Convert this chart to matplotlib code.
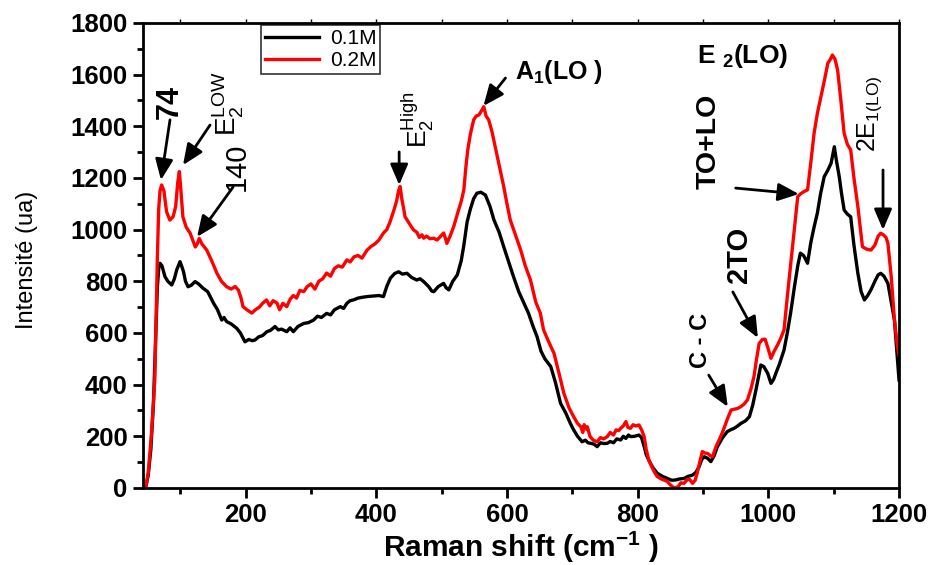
import matplotlib
matplotlib.use("Agg")
import matplotlib.pyplot as plt
from matplotlib.ticker import MultipleLocator

plt.rcParams['font.family'] = ['Liberation Sans', 'DejaVu Sans']
plt.rcParams['mathtext.fontset'] = 'custom'
plt.rcParams['mathtext.rm'] = 'Liberation Sans'
plt.rcParams['mathtext.bf'] = 'Liberation Sans:bold'

# Raman spectrum, 0.2M sample
shift_02 = [47, 51, 55, 58, 61, 63, 65, 67, 69, 71.5, 75, 79, 84, 89, 93, 96, 98.6, 101, 104, 109,
            115, 119, 123, 126, 129, 133, 140.5, 148, 156, 163, 171, 178, 184, 189, 193, 196, 202, 209.5,
            215, 221, 226, 232, 237, 242, 248, 252, 257, 263, 268, 273, 278, 283, 289, 294, 300, 306,
            312, 318, 324, 330, 336, 342, 348, 355, 360, 366, 372, 378, 386, 392, 398, 404, 411, 416,
            421, 427, 431, 434, 436.5, 439, 442, 444, 449, 454, 457, 462, 466, 470, 472.5, 477, 482,
            488, 493, 498, 503, 506, 508, 513, 518.5, 524, 530, 534, 537, 540, 544, 549, 553, 557,
            561, 564.5, 568, 572, 577, 582, 588, 595, 600, 605, 613, 621, 628, 636, 644, 651, 656,
            664, 672, 680, 687, 695, 702, 708, 713, 716, 718, 721, 723, 727, 732, 738, 743, 748,
            753.5, 758, 763, 767, 771, 774, 778, 782, 785, 789, 793, 797, 802, 806, 810, 813, 817,
            822, 826, 830, 836, 841, 845.5, 850, 856, 862, 866, 871, 875, 879, 884, 888, 891, 895,
            899, 903, 907, 911, 914.5, 920, 927, 932, 937, 943, 948, 953, 958, 963, 968, 973, 978,
            982, 986, 991, 995, 999, 1004, 1009, 1014, 1019, 1024, 1029, 1034, 1040, 1045, 1050,
            1055, 1060, 1065, 1070, 1075, 1080.5, 1086, 1091, 1095, 1098, 1102, 1106, 1111, 1116,
            1121, 1126, 1131, 1137, 1141, 1144, 1150, 1157, 1163, 1168, 1172, 1176, 1180, 1183,
            1188, 1193, 1197, 1200]
int_02 = [0, 60, 180, 290, 420, 650, 900, 1080, 1150, 1173, 1150, 1070, 1037, 1050, 1090, 1180, 1225, 1150, 1050, 1010,
          987, 960, 933, 945, 966, 945, 921, 880, 832, 800, 779, 770, 780, 766, 735, 702, 690, 677,
          690, 700, 715, 728, 705, 725, 716, 690, 715, 702, 730, 745, 735, 765, 760, 779, 790, 770,
          800, 810, 832, 820, 850, 860, 855, 883, 875, 895, 900, 890, 921, 935, 945, 960, 987, 1000,
          1030, 1076, 1110, 1150, 1167, 1120, 1080, 1050, 1030, 1010, 999, 990, 970, 980, 967, 975, 965,
          967, 960, 973, 987, 965, 947, 975, 1012, 1060, 1110, 1154, 1240, 1309, 1370, 1425, 1440, 1444,
          1460, 1476, 1440, 1425, 1380, 1321, 1250, 1167, 1100, 1038, 980, 921, 860, 805, 720, 677, 612,
          565, 521, 440, 367, 310, 276, 250, 237, 215, 245, 228, 237, 200, 185, 179, 195, 190,
          199, 215, 205, 225, 222, 231, 240, 257, 235, 231, 245, 240, 244, 225, 199, 150, 108,
          80, 60, 44, 35, 30, 25, 12, 0, 5, 20, 18, 30, 35, 18, 30, 57, 100,
          141, 135, 134, 125, 121, 160, 199, 230, 265, 302, 305, 308, 315, 325, 341, 380, 431,
          500, 560, 575, 576, 545, 502, 530, 553, 580, 612, 740, 860, 1000, 1128, 1140,
          1148, 1154, 1260, 1373, 1450, 1515, 1580, 1644, 1660, 1676, 1660, 1618, 1500, 1373,
          1330, 1309, 1200, 1089, 1000, 934, 925, 921, 940, 975, 986, 980, 970, 947,
          820, 650, 560, 515]

# Raman spectrum, 0.1M sample
shift_01 = [47, 51, 55, 59, 62, 65, 67, 69, 72, 76.6, 81, 87, 91, 94.5, 99.6, 102, 105, 108, 112, 117,
            122.6, 128, 135, 142, 151, 157, 163.5, 167, 171, 178, 186.5, 192, 199, 205, 210, 214.5,
            220, 226, 232.5, 238, 245, 250, 255, 263, 268, 273, 280, 289, 296, 304, 310, 316, 324,
            330, 336, 345, 350, 355, 360, 365, 372, 378, 386, 395, 404, 411, 416, 421.5, 428, 434,
            440, 447, 454, 462, 467, 472.5, 480, 485, 488, 495, 503, 507, 511, 517, 524, 530, 534,
            539, 544, 549, 554, 560, 567, 574, 580, 588, 595, 602, 610, 618, 626, 633, 640, 646,
            652, 658, 667, 674, 682, 690, 697, 702, 708, 715, 720, 724, 728, 733, 738, 743, 748,
            753.5, 758, 763, 768, 774, 778, 782, 786, 789, 795, 802, 806, 810, 813, 817, 823, 830,
            838, 845.5, 852, 858, 864, 871, 877, 884, 889, 894, 898, 902, 907, 912, 917, 922, 930,
            937, 942, 947.5, 953, 958, 965, 971, 976, 981, 985, 988.5, 993, 999, 1004, 1008,
            1011.5, 1017, 1024, 1029, 1034, 1040, 1045, 1049, 1054, 1060, 1065, 1070, 1075, 1080,
            1085.5, 1091, 1096, 1101, 1104, 1108.5, 1112, 1116, 1121, 1126, 1131, 1137, 1142, 1147,
            1152, 1157, 1163, 1168, 1172, 1177, 1183, 1188, 1193, 1197, 1200]
int_01 = [0, 50, 150, 330, 550, 780, 850, 870, 860, 818, 800, 786, 810, 844, 876, 860, 837, 800, 779, 785,
          799, 790, 773, 760, 715, 690, 650, 660, 644, 635, 618, 600, 566, 575, 570, 573,
          585, 590, 605, 610, 625, 612, 615, 605, 620, 605, 625, 637, 640, 650, 665, 660, 676,
          670, 690, 702, 695, 715, 725, 728, 735, 738, 741, 743, 745, 741, 780, 812, 830, 837,
          828, 831, 815, 805, 810, 799, 780, 762, 760, 780, 792, 775, 767, 800, 825, 880, 940,
          1030, 1080, 1120, 1141, 1145, 1134, 1090, 1038, 990, 934, 880, 818, 760, 715, 676, 625, 586,
          530, 500, 470, 410, 328, 290, 250, 225, 200, 179, 185, 175, 173, 170, 160, 175, 172,
          173, 180, 175, 190, 186, 200, 192, 205, 199, 200, 205, 195, 160, 130, 108, 80, 57,
          45, 37, 30, 31, 35, 37, 45, 50, 60, 82, 110, 121, 115, 102, 125, 160, 195,
          218, 225, 231, 240, 250, 260, 276, 320, 379, 430, 476, 470, 444, 405, 420,
          444, 480, 534, 600, 676, 780, 860, 909, 900, 870, 950, 1010, 1064, 1140,
          1205, 1230, 1257, 1321, 1270, 1205, 1140, 1076, 1060, 1050, 940, 831, 760, 728,
          745, 767, 800, 825, 831, 820, 792, 720, 650, 520, 418]

x_ticks = [200, 400, 600, 800, 1000, 1200]
y_ticks = [0, 200, 400, 600, 800, 1000, 1200, 1400, 1600, 1800]

fig = plt.figure(figsize=(9.36, 5.65), dpi=100)
ax = fig.add_axes([0.1528, 0.1363, 0.8077, 0.823])

ax.plot(shift_01, int_01, color='black', lw=2.4, label='0.1M')
ax.plot(shift_02, int_02, color='#ff0000', lw=2.4, label='0.2M')

ax.set_xlim(43, 1200)
ax.set_ylim(0, 1800)
ax.set_xticks(x_ticks)
ax.set_yticks(y_ticks)
ax.xaxis.set_minor_locator(MultipleLocator(100))
ax.yaxis.set_minor_locator(MultipleLocator(100))
ax.tick_params(which='major', direction='out', length=7, width=2, labelsize=18.5, pad=4)
ax.tick_params(which='minor', direction='out', length=4, width=2)
ax.tick_params(which='both', top=False, right=False)
for lab in ax.get_xticklabels() + ax.get_yticklabels():
    lab.set_fontweight('bold')
for sp in ax.spines.values():
    sp.set_linewidth(2)

# small marks along the upper frame
top = ax.secondary_xaxis('top')
top.set_xticks(list(range(100, 1201, 100)))
top.tick_params(direction='out', length=3, width=1, labeltop=False)
top.spines['top'].set_visible(False)

ax.set_xlabel('Raman shift (cm$\\mathregular{^{-1}}$ )', fontsize=21.5, fontweight='bold', labelpad=2)
ax.set_ylabel('Intensité (ua)', fontsize=17)
ax.yaxis.set_label_coords(-0.139, 0.49)

leg = ax.legend(loc='upper left', bbox_to_anchor=(0.156, 0.996), borderaxespad=0,
                fontsize=15, frameon=True, fancybox=False, edgecolor='black',
                handlelength=2.6, handletextpad=0.5, borderpad=0.2, labelspacing=0.15)
leg.get_frame().set_linewidth(1.2)

arrow = dict(arrowstyle='-|>,head_length=0.7,head_width=0.3', color='black', lw=2,
             mutation_scale=18, shrinkA=0, shrinkB=0)

def mark(label, tail, tip, pos, size, weight='normal', rotation=90):
    ax.annotate('', xy=tip, xytext=tail, arrowprops=arrow)
    ax.text(pos[0], pos[1], label, fontsize=size, fontweight=weight, rotation=rotation,
            ha='center', va='center')

mark('74', (84.3, 1425), (70.5, 1192), (84, 1494), 22, 'bold')
mark('$\\mathregular{E_2^{LOW}}$', (145.6, 1405), (104.2, 1250), (174, 1490), 20)
mark('140', (180.8, 1165), (125.7, 972), (187, 1243), 21)
mark('$\\mathregular{E_2^{High}}$', (435, 1301), (435, 1173), (464, 1425), 19)
mark('A$\\mathregular{_1}$(LO )', (597.7, 1587), (564, 1479), (679, 1610), 18, 'bold', 0)
mark('TO+LO', (950, 1161), (1046.7, 1138), (909, 1343), 20.5, 'bold')
mark('$\\mathregular{2E_{1(LO)}}$', (1175.5, 1231), (1175.5, 999), (1155.6, 1448), 18)
mark('2TO', (945.6, 759), (984, 581), (955, 902), 21, 'bold')
mark('C - C', (908.8, 437), (938, 314), (896.6, 573), 17, 'bold')
ax.text(961, 1672, 'E $\\mathregular{_2}$(LO)', fontsize=19, fontweight='bold', ha='center', va='center')

fig.savefig('out.png', dpi=100)
